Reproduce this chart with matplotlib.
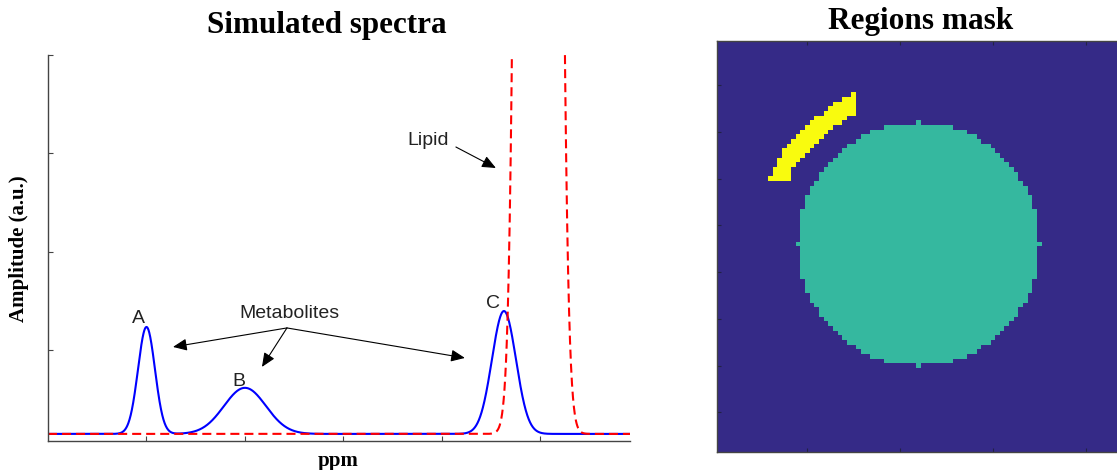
import matplotlib
matplotlib.use("Agg")
import matplotlib.pyplot as plt
import numpy as np
from matplotlib.colors import ListedColormap

plt.rcParams['lines.scale_dashes'] = False

# metabolite peaks (A, B, C): centre, height, width  (x in tick units, y in a.u.)
met_names = ["A", "B", "C"]
met_center = [1.0, 2.0, 4.63]
met_height = [0.543, 0.234, 0.624]
met_sigma = [0.086, 0.213, 0.122]

# lipid peak, goes far off the top of the axes
lip_center = [4.98]
lip_height = [55.0]
lip_sigma = [0.104]

x_range = [0.0, 5.91]
y_range = [-0.036, 1.924]
x_ticks = [1, 2, 3, 4, 5]
y_ticks = [0.424, 0.924, 1.424, 1.924]

# regions mask: 88x88 grid, circle (value 1) and a yellow arc (value 2)
mask_size = 88
circle_center = (43, 43)   # row, col
circle_radius = 26
arc_rows = [11, 12, 13, 14, 15, 16, 17, 18, 19, 20, 21, 22, 23, 24, 25, 26, 27, 28, 29]
arc_left = [29, 27, 25, 24, 23, 21, 20, 19, 18, 17, 16, 15, 14, 14, 13, 13, 12, 12, 11]
arc_right = [29, 29, 29, 29, 29, 27, 26, 24, 23, 22, 21, 20, 19, 18, 17, 16, 15, 15, 15]
mask_colors = ["#352A87", "#35B89F", "#F9FB0E"]

W, H = 1117, 470
fig = plt.figure(figsize=(W / 100, H / 100), dpi=100)

# ---------------- spectra ----------------
ax = fig.add_axes([48 / W, (H - 441) / H, 582 / W, 386 / H])
x = np.linspace(x_range[0], x_range[1], 3000)
met = np.zeros_like(x)
for c, h, s in zip(met_center, met_height, met_sigma):
    met += h * np.exp(-(x - c) ** 2 / (2 * s ** 2))
lip = np.zeros_like(x)
for c, h, s in zip(lip_center, lip_height, lip_sigma):
    lip += h * np.exp(-(x - c) ** 2 / (2 * s ** 2))

ax.plot(x, met, color="#0000ff", lw=1.5)
ax.plot(x, lip, color="#ff0000", lw=1.5, dashes=(6.5, 3.6))
ax.set_xlim(x_range)
ax.set_ylim(y_range)
ax.set_xticks(x_ticks)
ax.set_yticks(y_ticks)
ax.set_xticklabels([])
ax.set_yticklabels([])
for s in ["top", "right"]:
    ax.spines[s].set_visible(False)
for s in ["left", "bottom"]:
    ax.spines[s].set_color("#444444")
    ax.spines[s].set_linewidth(1.0)
ax.tick_params(direction="in", length=3.5, width=0.8, color="#444444")


def px(xp, yp):
    # figure pixel -> data coords of the spectra axes
    return ((xp - 48) / 98.5, (434 - yp) / 197.0)


lab_font = dict(family="Liberation Sans", fontsize=14, color="#222222")
label_pos = [px(138, 323), px(239, 386), px(493, 308)]
for name, p in zip(met_names, label_pos):
    ax.text(p[0], p[1], name, ha="center", va="baseline", **lab_font)

ax.text(*px(289, 318), "Metabolites", ha="center", va="baseline", **lab_font)
ax.text(*px(428, 145), "Lipid", ha="center", va="baseline", **lab_font)

arrow = dict(arrowstyle="-|>,head_length=0.6,head_width=0.26", color="black",
             lw=0.8, shrinkA=0, shrinkB=0, mutation_scale=14)
start = px(287, 328)
for tip in [px(173, 347), px(262, 367), px(465, 358)]:
    ax.annotate("", xy=tip, xytext=start, arrowprops=arrow)
ax.annotate("", xy=px(496, 168), xytext=px(456, 147), arrowprops=arrow)

serif = dict(family="Liberation Serif", weight="bold")
fig.text(327 / W, 1 - 33 / H, "Simulated spectra", ha="center", va="baseline",
         fontsize=22.4, **serif)
fig.text(19 / W, 1 - 249 / H, "Amplitude (a.u.)", ha="center", va="center",
         rotation=90, fontsize=15, **serif)
fig.text(338 / W, 1 - 466 / H, "ppm", ha="center", va="baseline", fontsize=15, **serif)

# ---------------- regions mask ----------------
mask = np.zeros((mask_size, mask_size), dtype=int)
rr, cc = np.mgrid[0:mask_size, 0:mask_size]
inside = (rr - circle_center[0]) ** 2 + (cc - circle_center[1]) ** 2 <= circle_radius ** 2
mask[inside] = 1
for r, a, b in zip(arc_rows, arc_left, arc_right):
    mask[r, a:b + 1] = 2

ax2 = fig.add_axes([717 / W, (H - 452) / H, 408 / W, 411 / H])
ax2.imshow(mask, cmap=ListedColormap(mask_colors), vmin=0, vmax=2,
           interpolation="nearest", aspect="auto",
           extent=(0.5, mask_size + 0.5, mask_size + 0.5, 0.5))
ax2.set_xticks([20, 40, 60, 80])
ax2.set_yticks([10, 20, 30, 40, 50, 60, 70, 80])
ax2.set_xticklabels([])
ax2.set_yticklabels([])
ax2.tick_params(direction="in", length=3, width=0.8, color="#222244",
                top=True, right=True, bottom=True, left=True)
for s in ax2.spines.values():
    s.set_color("#444444")
    s.set_linewidth(1.0)
fig.text(921 / W, 1 - 29.5 / H, "Regions mask", ha="center", va="baseline",
         fontsize=22.5, **serif)

fig.savefig("out.png", dpi=100)
